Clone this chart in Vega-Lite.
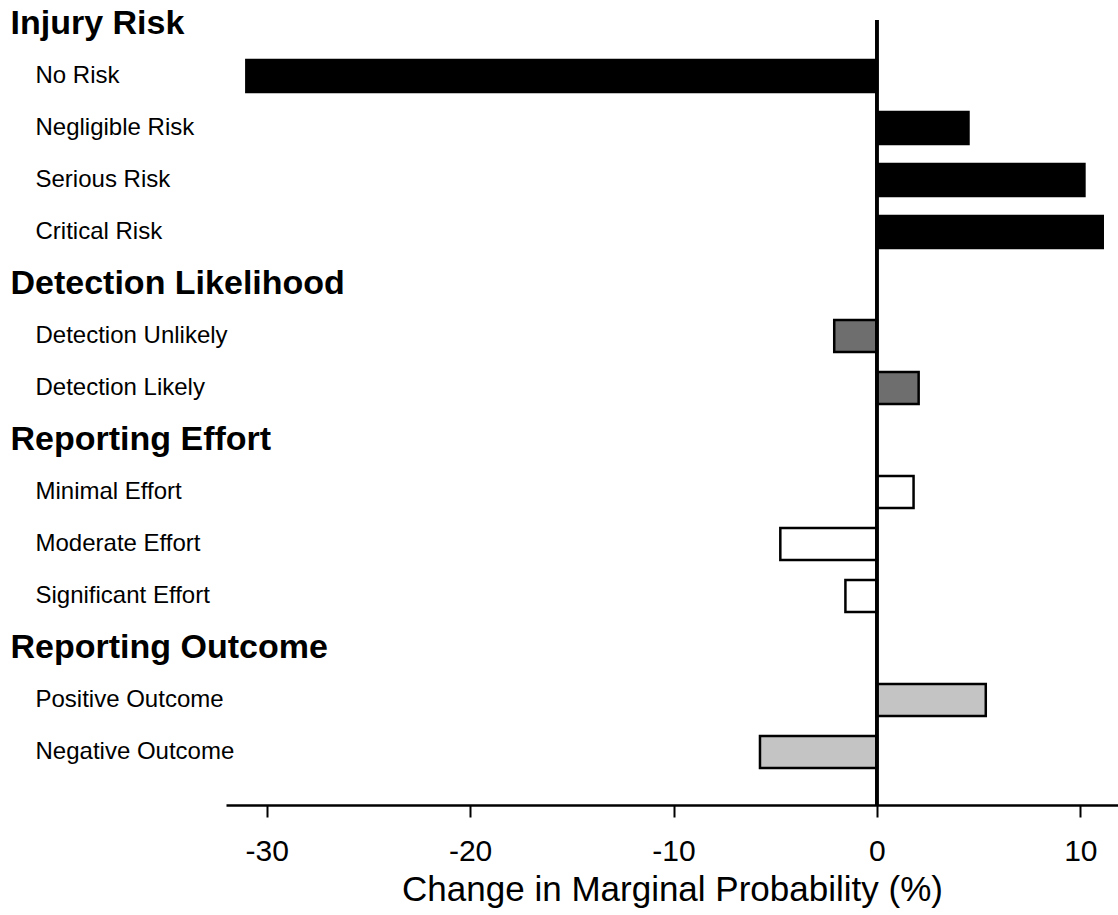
{
  "$schema": "https://vega.github.io/schema/vega-lite/v6.json",
  "autosize": "none",
  "width": 892,
  "height": 785,
  "padding": {"left": 226, "top": 20, "right": 0, "bottom": 110},
  "background": "white",
  "config": {"view": {"stroke": null}, "font": "Liberation Sans"},
  "data": {
    "values": [
      {"item": "No Risk", "group": "Injury Risk", "change": -31.0},
      {"item": "Negligible Risk", "group": "Injury Risk", "change": 4.5},
      {"item": "Serious Risk", "group": "Injury Risk", "change": 10.2},
      {"item": "Critical Risk", "group": "Injury Risk", "change": 11.1},
      {"item": "Detection Unlikely", "group": "Detection Likelihood", "change": -2.1},
      {"item": "Detection Likely", "group": "Detection Likelihood", "change": 2.05},
      {"item": "Minimal Effort", "group": "Reporting Effort", "change": 1.8},
      {"item": "Moderate Effort", "group": "Reporting Effort", "change": -4.75},
      {"item": "Significant Effort", "group": "Reporting Effort", "change": -1.55},
      {"item": "Positive Outcome", "group": "Reporting Outcome", "change": 5.35},
      {"item": "Negative Outcome", "group": "Reporting Outcome", "change": -5.75}
    ]
  },
  "layer": [
    {
      "mark": {"type": "bar", "height": {"band": 0.62}, "stroke": "black", "strokeWidth": 2.5},
      "encoding": {
        "y": {
          "field": "item",
          "type": "nominal",
          "scale": {
            "domain": ["Injury Risk", "No Risk", "Negligible Risk", "Serious Risk", "Critical Risk", "Detection Likelihood", "Detection Unlikely", "Detection Likely", "Reporting Effort", "Minimal Effort", "Moderate Effort", "Significant Effort", "Reporting Outcome", "Positive Outcome", "Negative Outcome"],
            "range": [-22, 758],
            "paddingInner": 0,
            "paddingOuter": 0
          },
          "axis": {
            "title": null,
            "domain": false,
            "ticks": false,
            "labelAlign": "left",
            "labelLimit": 500,
            "labelColor": "black",
            "labelPadding": {"condition": {"test": "indexof(['Injury Risk','Detection Likelihood','Reporting Effort','Reporting Outcome'], datum.value) >= 0", "value": 216}, "value": 191},
            "labelFontSize": {"condition": {"test": "indexof(['Injury Risk','Detection Likelihood','Reporting Effort','Reporting Outcome'], datum.value) >= 0", "value": 34}, "value": 24},
            "labelFontWeight": {"condition": {"test": "indexof(['Injury Risk','Detection Likelihood','Reporting Effort','Reporting Outcome'], datum.value) >= 0", "value": "bold"}, "value": "normal"}
          }
        },
        "x": {
          "field": "change",
          "type": "quantitative",
          "scale": {"domain": [-32, 11.85], "nice": false, "zero": false},
          "axis": {
            "title": "Change in Marginal Probability (%)",
            "values": [-30, -20, -10, 0, 10],
            "labelExpr": "toString(datum.value)",
            "grid": false,
            "domainColor": "black",
            "domainWidth": 2.5,
            "tickColor": "black",
            "tickWidth": 2,
            "tickSize": 12,
            "labelFontSize": 30,
            "labelColor": "black",
            "labelPadding": 19,
            "labelFlush": false,
            "titleFontSize": 35,
            "titleFontWeight": "normal",
            "titleColor": "black",
            "titlePadding": 6
          }
        },
        "color": {
          "field": "group",
          "type": "nominal",
          "scale": {
            "domain": ["Injury Risk", "Detection Likelihood", "Reporting Effort", "Reporting Outcome"],
            "range": ["#000000", "#6e6e6e", "#ffffff", "#c4c4c4"]
          },
          "legend": null
        }
      }
    },
    {
      "mark": {"type": "rule", "color": "black", "strokeWidth": 2.5},
      "encoding": {"x": {"datum": 0}}
    }
  ]
}
